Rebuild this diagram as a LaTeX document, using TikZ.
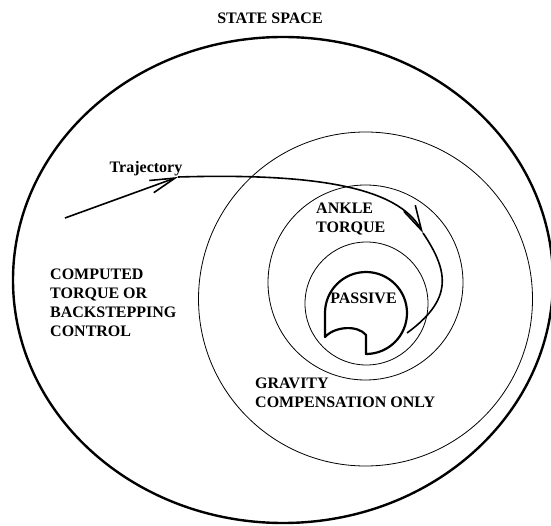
\documentclass[tikz,border=0pt]{standalone}
\usepackage{fontspec}
\setmainfont{Liberation Serif}
\usetikzlibrary{arrows.meta}

\begin{document}
\begin{tikzpicture}[x=1pt, y=1pt,
        lbl/.style={font=\bfseries\fontsize{16}{19}\selectfont, inner sep=0pt, align=left},
        bound/.style={line width=2.4pt},
        region/.style={line width=0.8pt},
        blob/.style={line width=2.2pt, line join=round},
        traj/.style={line width=1.6pt},
        barb/.style={-{Straight Barb[length=25pt, width=13pt]}}
    ]
        \useasboundingbox (0,0) rectangle (551,525);
        % regions of the state space
        \draw[bound] (283,245) ellipse[x radius=270, y radius=243];
        \draw[region] (365.5,226) circle[radius=167];
        \draw[region] (365.5,242.5) circle[radius=97.5];
        \draw[region] (366.5,221.5) circle[radius=61.5];
        \draw[blob] (325,188) -- (325,212) arc[start angle=180, end angle=-90, radius=41]
            -- (366,190) .. controls (358,200) and (335,199) .. cycle;
        % labels
        \node[lbl] (title) at (270,507) {STATE SPACE};
        \node[lbl] (trajlbl) at (146,356) {Trajectory};
        \node[lbl, anchor=west] (computed) at (50,222.5) {COMPUTED\\TORQUE OR\\BACKSTEPPING\\CONTROL};
        \node[lbl, anchor=west] (ankle) at (316,305.5) {ANKLE\\TORQUE};
        \node[lbl] (passive) at (363.5,226.5) {PASSIVE};
        \node[lbl, anchor=west] (gravity) at (255,132.5) {GRAVITY\\COMPENSATION ONLY};
        % trajectory
        \coordinate (t0) at (65,307);
        \coordinate (t1) at (178,348);
        \coordinate (t2) at (423,292);
        \coordinate (t3) at (407,192);
        \draw[traj, barb] (t0) -- (t1);
        \draw[traj, barb] (t1) .. controls (315,352) and (398,338) .. (t2);
        \draw[traj] (t2) .. controls (450,252) and (452,225) .. (t3);
    \end{tikzpicture}
\end{document}
